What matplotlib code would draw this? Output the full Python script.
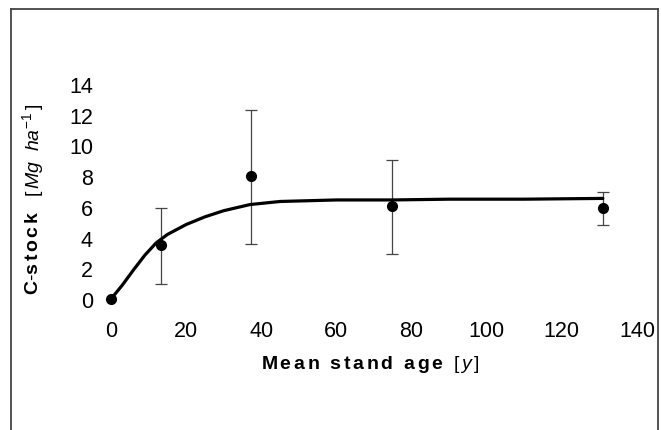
import matplotlib
matplotlib.use("Agg")
import matplotlib.pyplot as plt
from matplotlib.lines import Line2D

plt.rcParams['font.family'] = ['Liberation Sans', 'DejaVu Sans']
plt.rcParams['mathtext.fontset'] = 'custom'
plt.rcParams['mathtext.rm'] = 'Liberation Sans'
plt.rcParams['mathtext.it'] = 'Liberation Sans:italic'
plt.rcParams['mathtext.bf'] = 'Liberation Sans:bold'

# measured stand data
age = [0, 13.3, 37.2, 74.7, 130.9]
cstock = [0.0, 3.5, 8.0, 6.05, 5.95]
err_low = [0.0, 2.5, 4.4, 3.1, 1.15]
err_high = [0.0, 2.4, 4.3, 3.0, 1.05]

# fitted curve
curve_age = [0, 3, 6, 9, 12, 15, 20, 25, 30, 37, 45, 60, 75, 90, 110, 130.9]
curve_c = [0.0, 0.9, 1.9, 2.85, 3.65, 4.2, 4.85, 5.35, 5.75, 6.15, 6.35, 6.45, 6.45, 6.5, 6.5, 6.55]

xticks = [0, 20, 40, 60, 80, 100, 120, 140]
yticks = [0, 2, 4, 6, 8, 10, 12, 14]

W, H = 661, 431
fig = plt.figure(figsize=(W / 100, H / 100), dpi=100)
ax = fig.add_axes([111 / W, 1 - 300 / H, 526 / W, 215 / H])

ax.plot(curve_age, curve_c, color='black', lw=2.3, solid_capstyle='round', zorder=2)
ax.errorbar(age[1:], cstock[1:], yerr=[err_low[1:], err_high[1:]], fmt='none',
            ecolor='#444444', elinewidth=0.9, capsize=4.5, capthick=0.9, zorder=1)
ax.plot(age, cstock, 'o', color='black', ms=7, zorder=3, clip_on=False)

ax.set_xlim(0, 140)
ax.set_ylim(0, 14)
ax.set_xticks(xticks)
ax.set_yticks(yticks)
for s in ax.spines.values():
    s.set_visible(False)
ax.tick_params(length=0)
ax.tick_params(axis='x', pad=15)
ax.tick_params(axis='y', pad=13)
for lab in ax.get_xticklabels() + ax.get_yticklabels():
    lab.set_fontsize(15.5)

fig.text(370 / W, 1 - 365 / H, r'$\mathbf{M\,e\,a\,n\ \ s\,t\,a\,n\,d\ \ a\,g\,e}$  $\mathit{[\,y\,]}$',
         ha='center', va='center', fontsize=14)
fig.text(33 / W, 1 - 253 / H, r'$\mathbf{C\text{-}s\,t\,o\,c\,k}$', fontsize=14,
         rotation=90, ha='center', va='center')
fig.text(33 / W, 1 - 150 / H, r'$\mathit{[\,Mg\ \ ha^{-1}\,]}$', fontsize=14,
         rotation=90, ha='center', va='center')

# frame around the figure (no bottom edge)
lc = '#444444'
fig.add_artist(Line2D([11 / W, 11 / W], [0, 1 - 10 / H], color=lc, lw=1.3))
fig.add_artist(Line2D([11 / W, 658 / W], [1 - 10 / H, 1 - 10 / H], color=lc, lw=1.3))
fig.add_artist(Line2D([658 / W, 658 / W], [0, 1 - 10 / H], color=lc, lw=1.3))

fig.savefig('out.png', dpi=100)
